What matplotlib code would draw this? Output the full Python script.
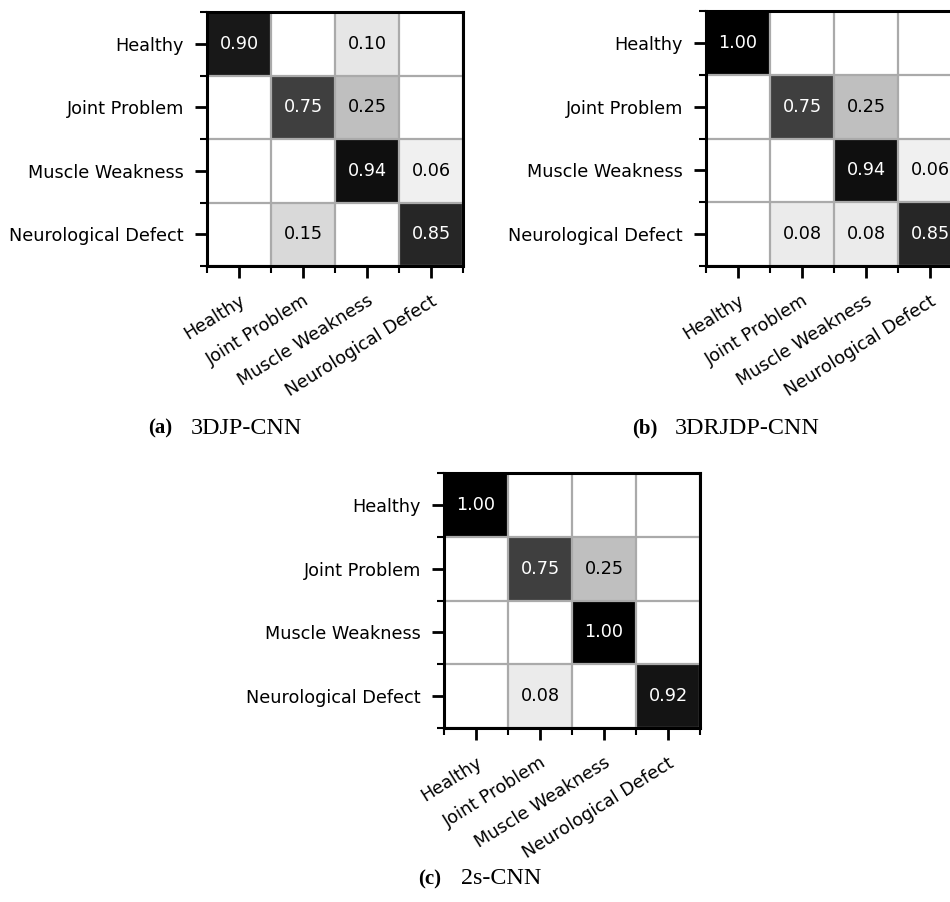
import numpy as np
import matplotlib
matplotlib.use("Agg")
import matplotlib.pyplot as plt
import matplotlib.transforms as mtransforms

classes = ["Healthy", "Joint Problem", "Muscle Weakness", "Neurological Defect"]

cm_3djp = [[0.90, 0.00, 0.10, 0.00],
           [0.00, 0.75, 0.25, 0.00],
           [0.00, 0.00, 0.94, 0.06],
           [0.00, 0.15, 0.00, 0.85]]
cm_3drjdp = [[1.00, 0.00, 0.00, 0.00],
             [0.00, 0.75, 0.25, 0.00],
             [0.00, 0.00, 0.94, 0.06],
             [0.00, 0.08, 0.08, 0.85]]
cm_2s = [[1.00, 0.00, 0.00, 0.00],
         [0.00, 0.75, 0.25, 0.00],
         [0.00, 0.00, 1.00, 0.00],
         [0.00, 0.08, 0.00, 0.92]]

panel_letters = ["(a)", "(b)", "(c)"]
panel_names = ["3DJP-CNN", "3DRJDP-CNN", "2s-CNN"]

W, H = 950, 902
fig = plt.figure(figsize=(W / 100, H / 100), dpi=100)

# axes boxes in pixels: left, top, width, height
boxes = [(207, 12, 256, 254), (706, 11, 256, 255), (444, 473, 256, 255)]
captions = [(148, 428), (632, 428), (418, 879)]
mats = [cm_3djp, cm_3drjdp, cm_2s]

FS = 12.7
offset = mtransforms.ScaledTranslation(-5 / 100, 0, fig.dpi_scale_trans)
for mat, (l, t, w, h), (cx, cy), let, name in zip(mats, boxes, captions, panel_letters, panel_names):
    ax = fig.add_axes([l / W, 1 - (t + h) / H, w / W, h / H])
    m = np.array(mat)
    ax.imshow(m, cmap="gray_r", vmin=0, vmax=1, aspect="auto", interpolation="nearest")
    n = len(classes)
    for i in range(n):
        for j in range(n):
            v = m[i, j]
            if v > 0:
                ax.text(j, i, f"{v:.2f}", ha="center", va="center", fontsize=FS,
                        color="white" if v > 0.5 else "black")
    ax.set_xticks(range(n))
    ax.set_yticks(range(n))
    ax.set_xticks(np.arange(-0.5, n, 1), minor=True)
    ax.set_yticks(np.arange(-0.5, n, 1), minor=True)
    ax.set_xticklabels(classes, fontsize=FS, rotation=32, ha="right", rotation_mode="anchor")
    ax.set_yticklabels(classes, fontsize=FS)
    for lab in ax.get_xticklabels():
        lab.set_transform(lab.get_transform() + offset)
    ax.tick_params(axis="x", which="major", pad=10)
    ax.tick_params(axis="y", which="major", pad=8)
    ax.set_xlim(-0.5, n - 0.5)
    ax.set_ylim(n - 0.5, -0.5)
    ax.grid(which="minor", color="#aaaaaa", linewidth=1.6)
    ax.tick_params(which="major", length=8.6, width=2.0)
    ax.tick_params(which="minor", length=5, width=1.5)
    for s in ax.spines.values():
        s.set_linewidth(2.2)
        s.set_zorder(5)
    fig.text(cx / W, 1 - cy / H, let, fontsize=15, fontweight="bold",
             family="Liberation Serif", ha="left", va="center")
    fig.text((cx + 43) / W, 1 - cy / H, name, fontsize=17.3,
             family="Liberation Serif", ha="left", va="center")

fig.savefig("out.png", dpi=100)
